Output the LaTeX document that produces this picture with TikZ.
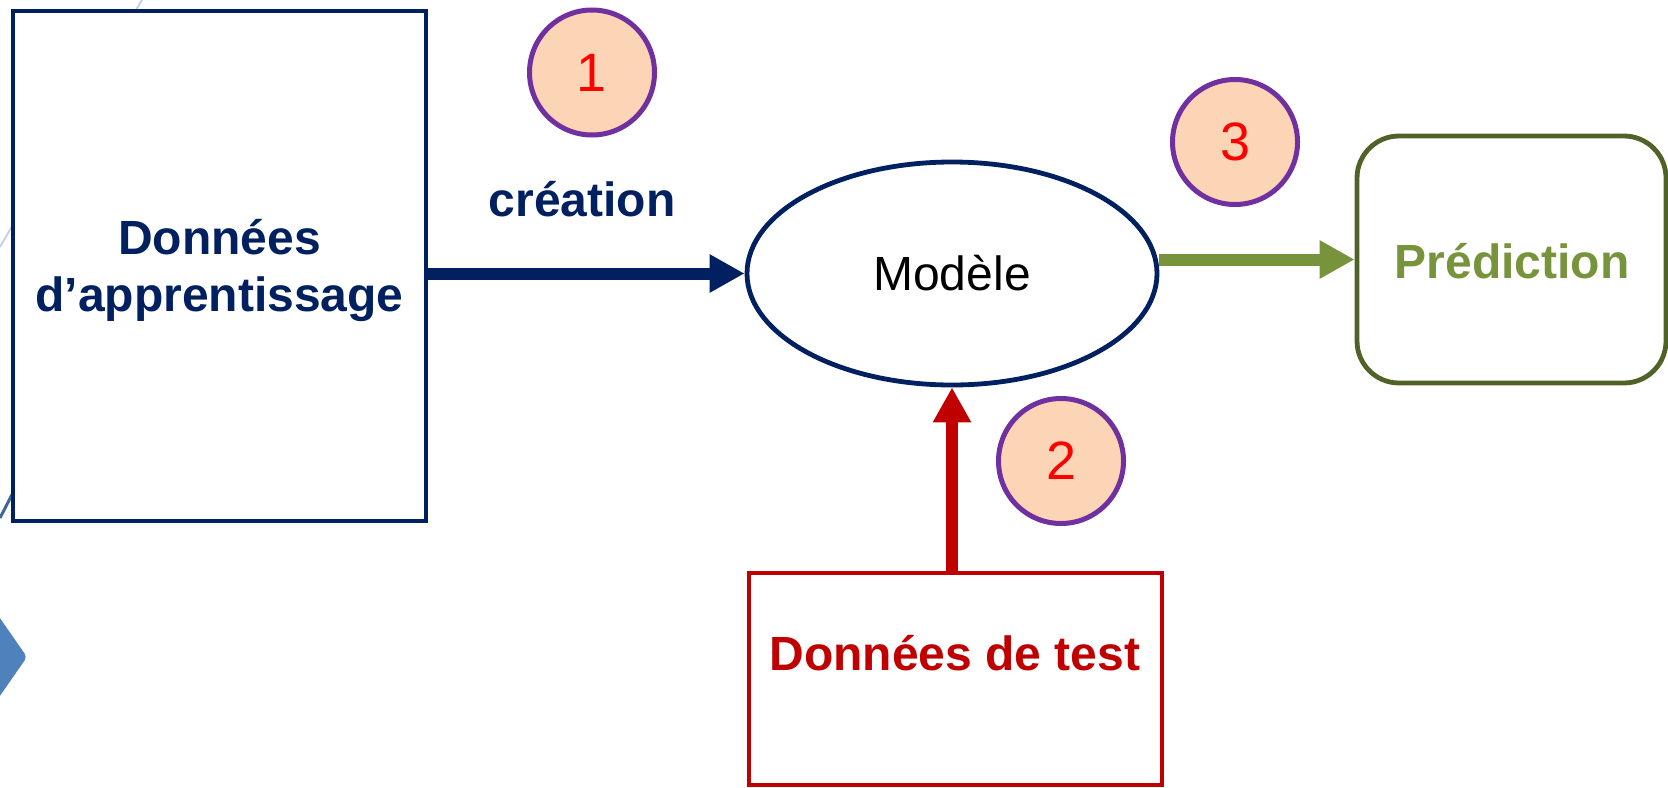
\documentclass[tikz,border=0pt]{standalone}
\usepackage{fontspec}
\setmainfont{Liberation Sans}
\usetikzlibrary{arrows.meta,shapes.geometric}
\definecolor{navy}{HTML}{002060}
\definecolor{darkred}{HTML}{C00000}
\definecolor{olive}{HTML}{77933C}
\definecolor{darkolive}{HTML}{4F6228}
\definecolor{violet}{HTML}{7030A0}
\definecolor{peach}{HTML}{FBD5B5}
\definecolor{decoblue}{HTML}{4F81BD}
\begin{document}
\begin{tikzpicture}[x=0.5pt,y=-0.5pt,
    bigtxt/.style={font=\fontsize{24}{28.5}\selectfont\bfseries, align=center},
    databox/.style={draw, fill=white, line width=2.4pt, inner sep=0pt},
    stepnum/.style={circle, draw=violet, fill=peach, line width=2.5pt, minimum size=62.5pt,
        inner sep=0pt, text=red, font=\fontsize{27}{27}\selectfont},
    flow/.style={line width=6pt, -{Triangle[length=17.5pt,width=18pt]}}]
    \useasboundingbox (0,0) rectangle (1668,787);

    % background pieces of the slide
    \draw [line width=1pt, color=decoblue!35] (143,-2) -- (0,247);
    \draw [line width=1.5pt, color=decoblue!80!black] (0,518) -- (40,440);
    \fill [decoblue, rounded corners=2pt] (-5,611) -- (27,657) -- (-5,703) -- cycle;

    \node [databox, draw=navy, minimum width=206.5pt, minimum height=255pt] (appr) at (219.5,266) {};
    \node [bigtxt, text=navy] (apprlbl) at (219.5,270) {Données\\d’apprentissage};
    \node [ellipse, draw=navy, line width=2.4pt, minimum width=205pt, minimum height=111.5pt,
        inner sep=0pt, font=\fontsize{24}{24}\selectfont] (model) at (952,273.5) {Modèle};
    \node [databox, draw=darkolive, rounded corners=21pt, minimum width=154.5pt,
        minimum height=123.5pt] (pred) at (1511.5,259.5) {};
    \node [bigtxt, text=olive] (predlbl) at (1512,261) {Prédiction};
    \node [databox, draw=darkred, minimum width=206.5pt, minimum height=106pt] (test) at (955.5,679) {};
    \node [bigtxt, text=darkred] (testlbl) at (955,653) {Données de test};

    \node [bigtxt, text=navy] (crea) at (582,199) {création};
    \node [stepnum] (n1) at (592,72.5) {1};
    \node [stepnum] (n2) at (1061,461) {2};
    \node [stepnum] (n3) at (1235,142) {3};

    \draw [flow, navy] (appr.east |- model.west) -- (model.west);
    \draw [flow, olive] (model.east |- pred.west) -- (pred.west);
    \draw [flow, darkred] (model.south |- test.north) -- (model.south);

\end{tikzpicture}
\end{document}
